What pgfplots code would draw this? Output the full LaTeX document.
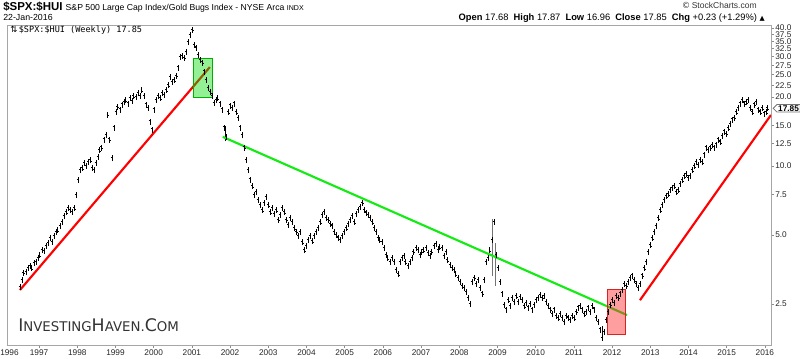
\documentclass[border=0pt]{standalone}
\usepackage{pgfplots}
\pgfplotsset{compat=1.18}
\usepackage{fontspec}
\setmainfont{Liberation Sans}
\newfontfamily\dejavu{DejaVu Sans}
\newfontfamily\monofont{DejaVu Sans Mono}
\usetikzlibrary{shapes.symbols}
\definecolor{trendgreen}{RGB}{20,235,20}
\definecolor{boxgreen}{RGB}{0,220,0}
\definecolor{trendred}{RGB}{255,0,0}
\definecolor{boxred}{RGB}{255,40,40}
\pgfdeclareplotmark{ohlc}{%
  \pgfpathmoveto{\pgfpoint{0pt}{-\pgfplotmarksize}}%
  \pgfpathlineto{\pgfpoint{0pt}{\pgfplotmarksize}}%
  \pgfpathmoveto{\pgfpoint{-1pt}{0.35\pgfplotmarksize}}%
  \pgfpathlineto{\pgfpoint{0pt}{0.35\pgfplotmarksize}}%
  \pgfpathmoveto{\pgfpoint{0pt}{-0.3\pgfplotmarksize}}%
  \pgfpathlineto{\pgfpoint{1pt}{-0.3\pgfplotmarksize}}%
  \pgfusepathqstroke}
\begin{document}
\begin{tikzpicture}[x=0.75pt,y=0.75pt]
\useasboundingbox (-7,-13) rectangle (793,345);
\begin{axis}[
  at={(0,0)}, anchor=south west, scale only axis,
  width=573pt, height=240pt,
  xmin=1996.16, xmax=2016.16,
  ymode=log, ymin=1.658, ymax=41.2,
  axis line style={draw=black!35, line width=0.6pt},
  xtick={1997,1998,1999,2000,2001,2002,2003,2004,2005,2006,2007,2008,2009,2010,2011,2012,2013,2014,2015,2016},
  xticklabels={1997,1998,1999,2000,2001,2002,2003,2004,2005,2006,2007,2008,2009,2010,2011,2012,2013,2014,2015,2016},
  ytick={2.5,5,7.5,10,12.5,15,20,22.5,25,27.5,30,32.5,35,37.5,40},
  yticklabels={2.5,5.0,7.5,10.0,12.5,15.0,20.0,22.5,25.0,27.5,30.0,32.5,35.0,37.5,40.0},
  yminorticks=false, xminorticks=false,
  xtick pos=bottom, ytick pos=right, yticklabel pos=right,
  tick align=outside, major tick length=2pt,
  tick style={black!45, line width=0.5pt},
  ticklabel style={font=\fontsize{6.2}{7}\selectfont, text=black!85},
  xticklabel style={anchor=north, inner sep=0pt, yshift=-1.5pt},
  yticklabel style={anchor=west, inner sep=0pt, xshift=1pt},
]
\addplot[only marks, mark=ohlc, mark size=2.2pt, black, line width=0.55pt] table {
x y
1996.50 2.97
1996.55 3.18
1996.60 3.42
1996.66 3.45
1996.71 3.59
1996.76 3.66
1996.81 3.59
1996.87 3.77
1996.92 3.81
1996.97 3.97
1997.02 4.09
1997.08 4.30
1997.13 4.25
1997.18 4.47
1997.23 4.61
1997.29 4.85
1997.34 4.66
1997.39 4.95
1997.44 5.16
1997.49 5.26
1997.55 5.47
1997.60 5.70
1997.65 6.05
1997.71 6.30
1997.76 6.56
1997.81 6.43
1997.86 6.30
1997.92 6.56
1997.97 7.47
1998.02 8.69
1998.07 9.60
1998.13 9.80
1998.18 10.3
1998.23 10.0
1998.28 10.4
1998.34 10.6
1998.39 9.80
1998.44 9.60
1998.49 10.3
1998.54 10.95
1998.59 11.7
1998.64 12.0
1998.70 13.0
1998.75 13.6
1998.80 16.7
1998.85 13.0
1998.91 10.8
1998.96 14.7
1999.01 17.2
1999.06 18.1
1999.12 17.6
1999.17 18.5
1999.22 19.0
1999.27 19.4
1999.33 18.7
1999.38 19.8
1999.43 19.2
1999.48 20.2
1999.54 20.0
1999.59 20.8
1999.64 20.2
1999.69 21.4
1999.75 20.2
1999.80 18.5
1999.85 17.9
1999.90 15.6
1999.96 14.4
2000.01 17.6
2000.06 19.4
2000.11 20.2
2000.17 19.8
2000.22 20.8
2000.27 20.4
2000.33 21.4
2000.38 22.5
2000.43 24.4
2000.48 23.2
2000.54 23.7
2000.59 24.7
2000.64 26.8
2000.69 29.9
2000.74 30.2
2000.80 29.6
2000.85 31.4
2000.90 34.7
2000.95 37.2
2001.01 39.2
2001.06 33.7
2001.11 32.7
2001.16 30.5
2001.21 29.0
2001.27 28.2
2001.32 25.8
2001.37 23.7
2001.42 21.9
2001.48 21.0
2001.53 20.2
2001.58 18.8
2001.63 19.4
2001.68 19.8
2001.74 18.7
2001.79 17.6
2001.84 14.7
2001.89 13.4
2001.95 17.2
2002.00 18.3
2002.05 17.9
2002.10 18.7
2002.16 17.2
2002.21 16.2
2002.26 14.7
2002.31 13.6
2002.37 12.0
2002.42 10.6
2002.47 9.60
2002.52 8.70
2002.58 8.18
2002.63 7.47
2002.68 7.70
2002.73 7.11
2002.78 6.76
2002.84 6.43
2002.89 6.90
2002.94 7.33
2003.00 6.76
2003.05 6.30
2003.10 6.56
2003.15 6.17
2003.21 6.43
2003.26 5.82
2003.31 6.11
2003.36 6.56
2003.42 6.30
2003.47 5.82
2003.52 5.53
2003.57 5.93
2003.62 5.70
2003.68 5.36
2003.73 5.16
2003.78 4.95
2003.83 5.16
2003.89 4.66
2003.94 4.30
2003.99 4.47
2004.04 4.75
2004.09 4.95
2004.15 4.70
2004.20 4.95
2004.25 5.16
2004.30 5.36
2004.36 5.70
2004.41 6.11
2004.46 6.30
2004.51 5.93
2004.57 5.82
2004.62 5.59
2004.67 5.47
2004.72 5.16
2004.78 5.00
2004.83 4.85
2004.88 4.75
2004.93 4.95
2004.98 5.16
2005.04 5.36
2005.09 5.59
2005.14 5.82
2005.19 6.05
2005.25 5.70
2005.30 6.17
2005.35 6.43
2005.40 6.62
2005.46 6.90
2005.51 6.43
2005.56 6.24
2005.61 6.11
2005.66 5.93
2005.72 5.70
2005.77 5.36
2005.82 5.16
2005.87 4.85
2005.92 4.75
2005.98 4.66
2006.03 4.39
2006.08 4.09
2006.13 3.97
2006.19 3.81
2006.24 3.97
2006.29 3.81
2006.34 3.52
2006.40 3.38
2006.45 3.81
2006.50 3.97
2006.55 4.05
2006.60 3.81
2006.66 3.66
2006.71 3.81
2006.76 3.97
2006.81 4.22
2006.87 4.39
2006.92 4.30
2006.97 4.09
2007.02 4.22
2007.07 4.30
2007.13 4.39
2007.18 4.17
2007.23 4.05
2007.28 4.22
2007.34 4.47
2007.39 4.57
2007.44 4.30
2007.49 4.43
2007.55 4.39
2007.60 4.05
2007.65 4.22
2007.70 3.89
2007.76 3.70
2007.81 3.59
2007.86 3.52
2007.91 3.38
2007.97 3.25
2008.02 3.12
2008.07 3.00
2008.12 2.94
2008.18 2.82
2008.23 2.66
2008.28 2.50
2008.33 3.12
2008.39 3.25
2008.44 3.06
2008.49 3.18
2008.54 2.94
2008.60 2.77
2008.65 3.18
2008.70 3.81
2008.75 3.97
2008.80 4.30
2008.86 4.75
2008.91 5.70
2008.96 4.09
2009.01 3.59
2009.07 3.12
2009.12 2.77
2009.17 2.48
2009.22 2.36
2009.28 2.60
2009.33 2.45
2009.38 2.66
2009.43 2.55
2009.49 2.71
2009.54 2.55
2009.59 2.68
2009.64 2.60
2009.70 2.45
2009.75 2.53
2009.80 2.41
2009.85 2.50
2009.90 2.36
2009.96 2.48
2010.01 2.60
2010.06 2.66
2010.11 2.74
2010.17 2.66
2010.22 2.71
2010.27 2.55
2010.32 2.45
2010.38 2.36
2010.43 2.26
2010.48 2.36
2010.53 2.22
2010.59 2.17
2010.64 2.26
2010.69 2.17
2010.74 2.09
2010.80 2.22
2010.85 2.17
2010.90 2.13
2010.95 2.22
2011.01 2.17
2011.06 2.31
2011.11 2.41
2011.16 2.45
2011.21 2.36
2011.27 2.26
2011.32 2.31
2011.37 2.41
2011.42 2.31
2011.48 2.45
2011.53 2.36
2011.58 2.17
2011.63 2.09
2011.68 1.93
2011.74 1.78
2011.79 1.89
2011.84 2.13
2011.89 2.31
2011.95 2.48
2012.00 2.60
2012.05 2.53
2012.10 2.71
2012.16 2.66
2012.21 2.77
2012.26 2.88
2012.31 3.06
2012.37 3.00
2012.42 3.12
2012.47 3.25
2012.52 3.32
2012.58 3.18
2012.63 3.06
2012.68 2.94
2012.73 3.06
2012.79 3.32
2012.84 3.59
2012.89 3.81
2012.94 4.22
2013.00 4.52
2013.05 4.85
2013.10 5.16
2013.15 5.47
2013.21 5.93
2013.26 6.43
2013.31 6.76
2013.36 7.11
2013.42 7.40
2013.47 7.55
2013.52 7.86
2013.57 8.02
2013.63 8.18
2013.68 7.70
2013.73 7.86
2013.78 8.35
2013.84 8.69
2013.89 9.04
2013.94 9.23
2013.99 8.87
2014.04 9.04
2014.10 9.60
2014.15 10.0
2014.20 10.4
2014.25 10.1
2014.30 10.6
2014.36 10.4
2014.41 11.2
2014.46 12.0
2014.51 11.7
2014.57 12.0
2014.62 12.3
2014.67 12.0
2014.72 12.4
2014.78 13.0
2014.83 12.7
2014.88 13.5
2014.93 14.1
2014.99 13.8
2015.04 14.6
2015.09 15.2
2015.14 15.9
2015.20 16.2
2015.25 17.2
2015.30 17.9
2015.35 18.7
2015.41 19.4
2015.46 18.7
2015.51 19.0
2015.56 19.4
2015.62 17.9
2015.67 17.2
2015.72 18.5
2015.77 19.0
2015.83 17.6
2015.88 17.2
2015.93 17.9
2015.98 16.9
2016.04 17.2
2016.06 17.85
};
% long weekly high-low ranges
\addplot[black!55, line width=0.8pt] coordinates {(2008.88,3.3) (2008.88,5.9)};
\addplot[black!55, line width=0.8pt] coordinates {(2008.96,3.0) (2008.96,4.6)};
\addplot[black, line width=0.6pt] coordinates {(2001.89,12.8) (2001.89,14.9)};
\addplot[black, line width=0.6pt] coordinates {(2011.74,1.76) (2011.74,2.0)};
% trend lines
\addplot[trendred, line width=1.6pt] coordinates {(1996.50,2.88) (2001.47,27.0)};
\addplot[trendgreen, line width=1.6pt] coordinates {(2001.81,13.4) (2012.39,2.24)};
\addplot[trendred, line width=1.6pt] coordinates {(2012.73,2.60) (2016.16,16.7)};
% highlight boxes
\addplot[draw=boxgreen!80!black, line width=0.4pt, fill=boxgreen, fill opacity=0.42] coordinates {(2001.03,20.0) (2001.53,20.0) (2001.53,29.6) (2001.03,29.6)} -- cycle;
\addplot[draw=boxred!85!black, line width=0.4pt, fill=boxred, fill opacity=0.45] coordinates {(2011.87,1.85) (2012.34,1.85) (2012.34,2.91) (2011.87,2.91)} -- cycle;
\coordinate (last) at (axis cs:2016.16,17.85);
\end{axis}
% last value flag
\node[signal, signal to=west, draw=black!55, fill=white, line width=0.6pt, inner xsep=1pt, inner ysep=0.6pt, anchor=west, font=\bfseries\fontsize{6.2}{7}\selectfont] at ([xshift=1.2pt]last) {17.85};
% 1996 label at the left edge
\node[font=\fontsize{6.2}{7}\selectfont, text=black!85, anchor=north west, inner sep=0pt] at (-7,-4) {1996};
% header
\node[anchor=base west, inner sep=0pt] at (-4,334) {\fontsize{8.6}{10}\selectfont\bfseries \$SPX:\$HUI\ \mdseries\fontsize{6.5}{8}\selectfont S\&P 500 Large Cap Index/Gold Bugs Index - NYSE Arca \fontsize{5.3}{6}\selectfont INDX};
\node[anchor=base west, inner sep=0pt, font=\fontsize{6.6}{8}\selectfont] at (-4,324) {22-Jan-2016};
\node[anchor=base east, inner sep=0pt, font=\fontsize{6.4}{8}\selectfont, text=black!80] at (750,336) {\dejavu\symbol{"00A9}\,\rmfamily StockCharts.com};
\node[anchor=base east, inner sep=0pt, font=\fontsize{7}{8}\selectfont] at (758,324) {\textbf{Open} 17.68 \ \textbf{High} 17.87 \ \textbf{Low} 16.96 \ \textbf{Close} 17.85 \ \textbf{Chg} +0.23 (+1.29\%) {\dejavu\fontsize{5}{6}\selectfont\symbol{"25B2}}};
% legend inside plot
\node[anchor=base west, inner sep=0pt, font=\fontsize{6.4}{8}\selectfont] at (3,312) {{\dejavu\symbol{"21C5}}\,{\monofont \$SPX:\$HUI (Weekly) 17.85}};
% watermark
\node[anchor=base west, inner sep=0pt, text=black!80] at (11,14) {\dejavu\fontsize{13}{14}\selectfont I\fontsize{10}{12}\selectfont NVESTING\fontsize{13}{14}\selectfont H\fontsize{10}{12}\selectfont AVEN.\fontsize{13}{14}\selectfont C\fontsize{10}{12}\selectfont OM};
\end{tikzpicture}
\end{document}
